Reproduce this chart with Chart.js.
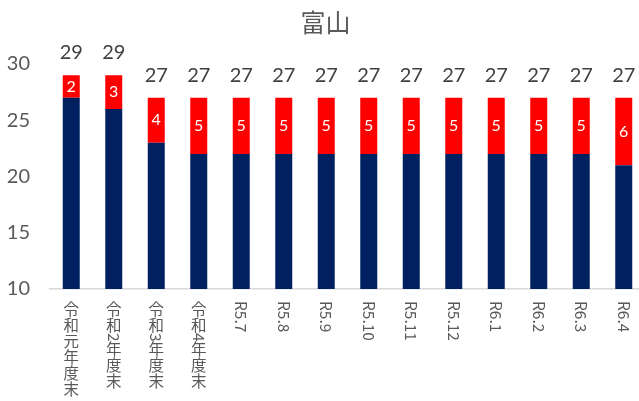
<!DOCTYPE html>
<html>
<head>
<meta charset="utf-8">
<script src="https://cdn.jsdelivr.net/npm/chart.js@4.4.1/dist/chart.umd.min.js"></script>
<style>
    body { margin: 0; overflow: hidden; background: #fff; }
    #wrap { width: 666px; height: 401px; }
</style>
</head>
<body>
<div id="wrap"><canvas id="myChart" width="666" height="401"></canvas></div>
<script>
// categories and values
const labels = ["令和元年度末", "令和2年度末", "令和3年度末", "令和4年度末",
    "R5.7", "R5.8", "R5.9", "R5.10", "R5.11", "R5.12", "R6.1", "R6.2", "R6.3", "R6.4"];
const navyValues = [27, 26, 23, 22, 22, 22, 22, 22, 22, 22, 22, 22, 22, 21];
const redValues = [2, 3, 4, 5, 5, 5, 5, 5, 5, 5, 5, 5, 5, 6];
const totals = navyValues.map((v, i) => v + redValues[i]);
const yTicks = [10, 15, 20, 25, 30];

const GRAY = "#595959";
const FONT = 'Lato, "Noto Sans CJK JP", sans-serif';
const JP_FONT = '"Noto Sans CJK JP", sans-serif';

// draws the numbers inside the red bars and the totals on top
const barLabels = {
    id: "barLabels",
    afterDatasetsDraw(chart) {
        const ctx = chart.ctx;
        const red = chart.getDatasetMeta(1);
        const y = chart.scales.y;
        ctx.save();
        ctx.textAlign = "center";
        ctx.textBaseline = "middle";
        ctx.font = "16px " + FONT;
        ctx.fillStyle = "#ffffff";
        red.data.forEach(function (bar, i) {
            ctx.fillText(String(redValues[i]), bar.x, (bar.y + bar.base) / 2);
        });
        ctx.font = "20px " + FONT;
        ctx.fillStyle = "#404040";
        ctx.textBaseline = "alphabetic";
        red.data.forEach(function (bar, i) {
            ctx.fillText(String(totals[i]), bar.x, y.getPixelForValue(totals[i]) - 16);
        });
        ctx.restore();
    }
};

// vertical category labels: CJK upright, latin characters turned sideways
const verticalLabels = {
    id: "verticalLabels",
    afterDraw(chart) {
        const ctx = chart.ctx;
        const x = chart.scales.x;
        ctx.save();
        ctx.fillStyle = GRAY;
        ctx.font = "15.5px " + JP_FONT;
        labels.forEach(function (lab, i) {
            const cx = x.getPixelForValue(i);
            let cy = chart.chartArea.bottom + 12;
            for (const ch of lab) {
                if (/[\u3000-\u9fff]/.test(ch)) {
                    ctx.textAlign = "center";
                    ctx.textBaseline = "middle";
                    ctx.fillText(ch, cx, cy + 7.8);
                    cy += 16;
                } else {
                    const w = ctx.measureText(ch).width;
                    ctx.save();
                    ctx.translate(cx, cy);
                    ctx.rotate(Math.PI / 2);
                    ctx.textAlign = "left";
                    ctx.textBaseline = "middle";
                    ctx.fillText(ch, 0, 0);
                    ctx.restore();
                    cy += w;
                }
            }
        });
        ctx.restore();
    }
};

const ctx = document.getElementById("myChart").getContext("2d");
const chart = new Chart(ctx, {
    type: "bar",
    data: {
        labels: labels,
        datasets: [{
            data: navyValues,
            backgroundColor: "#002060",
            barPercentage: 0.4,
            categoryPercentage: 1
        }, {
            data: redValues,
            backgroundColor: "#ff0000",
            barPercentage: 0.4,
            categoryPercentage: 1
        }]
    },
    options: {
        responsive: false,
        animation: false,
        layout: { padding: { left: 6, right: 21, bottom: 112, top: 0 } },
        plugins: {
            legend: { display: false },
            tooltip: { enabled: false },
            title: {
                display: true,
                text: "富山",
                color: GRAY,
                font: { family: JP_FONT, size: 25, weight: "normal", lineHeight: 1.2 },
                padding: { top: 7, bottom: 27 }
            }
        },
        scales: {
            x: {
                stacked: true,
                grid: { display: false, drawTicks: false },
                border: { display: true, color: "#d9d9d9", width: 1.5 },
                ticks: { display: false }
            },
            y: {
                stacked: true,
                min: 10,
                max: 30,
                grid: { display: false, drawTicks: false },
                border: { display: false },
                afterBuildTicks: function (scale) {
                    scale.ticks = yTicks.map(v => ({ value: v }));
                },
                afterFit: function (scale) {
                    scale.width = 44;
                },
                ticks: {
                    color: GRAY,
                    padding: 20,
                    font: { family: FONT, size: 20 }
                }
            }
        }
    },
    plugins: [barLabels, verticalLabels]
});
</script>
</body>
</html>
